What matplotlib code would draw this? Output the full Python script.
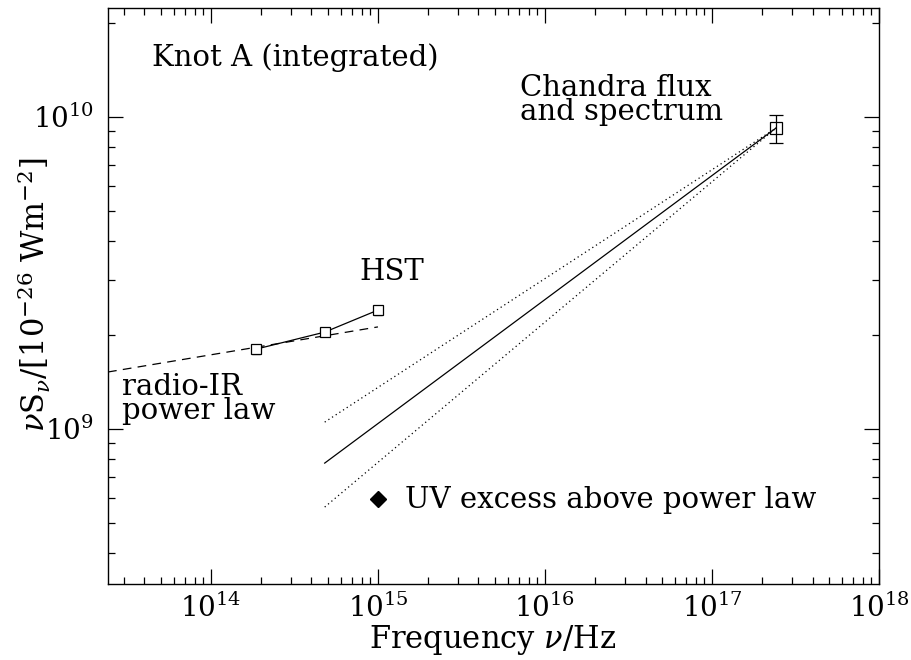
import numpy as np
import matplotlib
matplotlib.use('Agg')
import matplotlib.pyplot as plt
from matplotlib.ticker import LogLocator, NullFormatter

# HST optical / IR points
hst_nu = [1.87e14, 4.8e14, 1.0e15]
hst_flux = [1.80e9, 2.04e9, 2.40e9]
hst_err = [0.06e9, 0.06e9, 0.08e9]

# Chandra flux at 1 keV
chandra_nu = [2.42e17]
chandra_flux = [9.2e9]
chandra_err_lo = [0.94e9]
chandra_err_hi = [0.93e9]

# radio-IR power law extrapolation
pl_nu = [2.42e13, 1.0e15]
pl_flux = [1.52e9, 2.12e9]

# X-ray spectrum (best fit and range)
spec_nu = [4.8e14, 2.42e17]
spec_best = [7.76e8, 9.2e9]
spec_hi = [1.05e9, 9.2e9]
spec_lo = [5.61e8, 9.2e9]

# UV excess above power law
uv_nu = [1.0e15]
uv_flux = [5.96e8]

plt.rcParams['font.family'] = 'DejaVu Serif'
plt.rcParams['mathtext.fontset'] = 'dejavuserif'
fs = 20

fig = plt.figure(figsize=(9.12, 6.6), dpi=100)
ax = fig.add_axes([108/912, 76/660, 771/912, 576/660])
ax.set_xscale('log')
ax.set_yscale('log')
ax.set_xlim(2.42e13, 1e18)
ax.set_ylim(3.18e8, 2.23e10)

lw = 0.9
ax.plot(pl_nu, pl_flux, 'k', ls=(0, (7, 5)), lw=lw)
ax.errorbar(hst_nu, hst_flux, yerr=hst_err, fmt='s-', color='k', mfc='white',
            ms=7, mew=0.9, lw=lw, capsize=3, elinewidth=0.9)
ax.plot(spec_nu, spec_best, 'k-', lw=lw)
ax.plot(spec_nu, spec_hi, 'k', ls=(0, (1, 2.5)), lw=lw)
ax.plot(spec_nu, spec_lo, 'k', ls=(0, (1, 2.5)), lw=lw)
ax.errorbar(chandra_nu, chandra_flux, yerr=[chandra_err_lo, chandra_err_hi],
            fmt='s', color='k', mfc='none', ms=8, mew=0.9, capsize=5,
            elinewidth=0.9)
ax.plot(uv_nu, uv_flux, 'D', color='k', ms=8)

# ticks
ax.xaxis.set_major_locator(LogLocator(base=10, numticks=20))
ax.xaxis.set_minor_locator(LogLocator(base=10, subs=np.arange(2, 10), numticks=20))
ax.yaxis.set_major_locator(LogLocator(base=10, numticks=20))
ax.yaxis.set_minor_locator(LogLocator(base=10, subs=np.arange(2, 10), numticks=20))
ax.xaxis.set_minor_formatter(NullFormatter())
ax.yaxis.set_minor_formatter(NullFormatter())
ax.tick_params(which='both', direction='in', top=True, right=True, width=0.9)
ax.tick_params(which='major', length=11, labelsize=fs)
ax.tick_params(which='minor', length=5)
ax.tick_params(axis='x', which='major', pad=7)
ax.tick_params(axis='y', which='major', pad=10)
for s in ax.spines.values():
    s.set_linewidth(1.0)

ax.set_xlabel(r'Frequency $\nu$/Hz', fontsize=22, va='center')
ax.xaxis.set_label_coords(0.499, -0.097)
ax.set_ylabel(r'$\nu\mathrm{S}_\nu/[10^{-26}\ \mathrm{Wm}^{-2}]$', fontsize=22, va='center')
ax.yaxis.set_label_coords(-0.095, 0.502)


def fx(px):
    return (px - 108) / 771


def fy(py):
    return (584 - py) / 576


fa = 21
kw = dict(transform=ax.transAxes, fontsize=fa, va='baseline', ha='left')
ax.text(fx(152), fy(66), 'Knot A (integrated)', **kw)
ax.text(fx(520), fy(120), 'Chandra flux\nand spectrum', linespacing=0.82, **kw)
ax.text(fx(359), fy(280), 'HST', **kw)
ax.text(fx(122), fy(419), 'radio-IR\npower law', linespacing=0.8, **kw)
ax.text(fx(405), fy(508), 'UV excess above power law', **kw)

fig.savefig('out.png', dpi=100)
